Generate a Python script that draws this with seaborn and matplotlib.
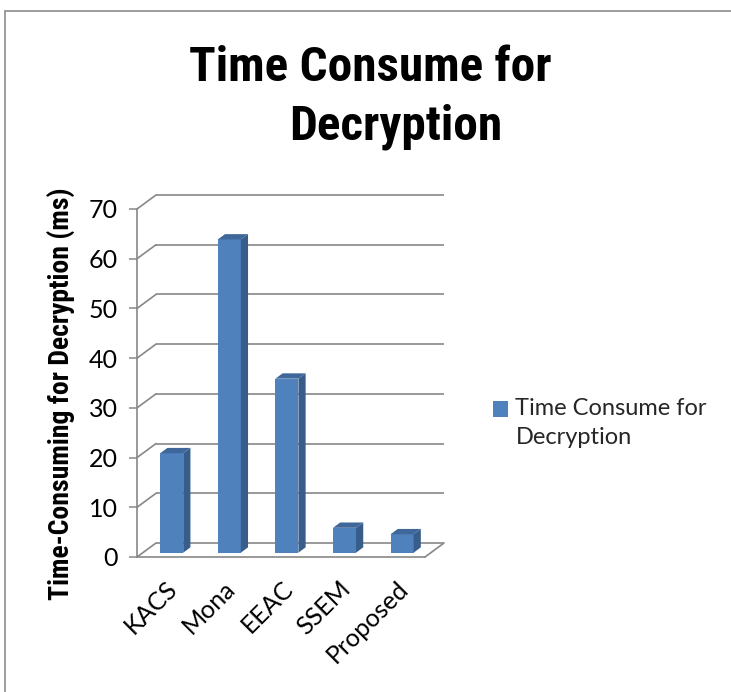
import matplotlib
matplotlib.use("Agg")
import matplotlib.pyplot as plt
from matplotlib.patches import Polygon, Rectangle
from matplotlib.lines import Line2D
from matplotlib.legend_handler import HandlerPatch
from matplotlib import font_manager
import seaborn as sns
import pandas as pd

# ---- data ----
methods = ["KACS", "Mona", "EEAC", "SSEM", "Proposed"]
times = [20, 63, 35, 5, 3.7]
series_name = "Time Consume for\nDecryption"
title_line1 = "Time Consume for"
title_line2 = "Decryption"
ylabel = "Time-Consuming for Decryption (ms)"
yticks = [0, 10, 20, 30, 40, 50, 60, 70]

df = pd.DataFrame({"Method": methods, "Time": times})

sns.set_theme(style="white")
plt.rcParams["font.family"] = ["Lato", "DejaVu Sans"]

# pick a narrow bold family if one is installed
installed = {f.name for f in font_manager.fontManager.ttflist}
narrow_pref = ["Liberation Sans Narrow", "Roboto Condensed", "Open Sans Condensed",
               "DejaVu Sans Condensed", "Noto Sans Condensed"]
narrow = [n for n in narrow_pref if n in installed]
if not narrow:
    narrow = sorted(n for n in installed if ("Condensed" in n or "Narrow" in n))
IS_NARROW = bool(narrow)
NARROW = (narrow[:1] if narrow else ["Liberation Sans"]) + ["DejaVu Sans"]

W, H = 731, 692
fig = plt.figure(figsize=(W / 100, H / 100), dpi=100)
fig.patch.set_facecolor("white")

# front plane of the pseudo-3D plot
x0p, x1p, ytop, ybot = 137, 425, 209, 557
ax = fig.add_axes([x0p / W, (H - ybot) / H, (x1p - x0p) / W, (ybot - ytop) / H])
ax.patch.set_visible(False)

FRONT = "#4F81BD"
SIDE = "#385D8A"
TOP = "#3F679A"
GRID = "#878787"

sns.barplot(data=df, x="Method", y="Time", color=FRONT, width=0.4,
            saturation=1, label=series_name, ax=ax, zorder=3)

ax.set_xlim(-0.5, len(methods) - 0.5)
ax.set_ylim(0, 70)
ax.set_yticks(yticks)
for s in ax.spines.values():
    s.set_visible(False)

# depth of the box in data units
DX = 19 / 57.6
DY = 14 / 49.7 * 10
F0 = 0.31     # depth position of bar front
BD = 0.38     # bar depth fraction

# walls / gridlines
xl, xr = -0.5, len(methods) - 0.5
glw = 1.2
for v in yticks:
    ax.plot([xl + DX, xr + DX], [v + DY, v + DY], color=GRID, lw=glw,
            clip_on=False, zorder=1, solid_capstyle="butt")
    ax.plot([xl, xl + DX], [v, v + DY], color=GRID, lw=glw, clip_on=False, zorder=1)
ax.plot([xl, xr], [0, 0], color=GRID, lw=glw, clip_on=False, zorder=2)
ax.plot([xr, xr + DX], [0, DY], color=GRID, lw=glw, clip_on=False, zorder=2)
ax.plot([xl, xl], [0, 70], color=GRID, lw=glw, clip_on=False, zorder=2)

# 3D bar faces
for p in list(ax.patches):
    p.set_x(p.get_x() + F0 * DX)
    p.set_y(F0 * DY)
    p.set_linewidth(0)
    bx0 = p.get_x()
    bx1 = bx0 + p.get_width()
    by0 = p.get_y()
    by1 = by0 + p.get_height()
    ddx, ddy = BD * DX, BD * DY
    side = Polygon([(bx1, by0), (bx1, by1), (bx1 + ddx, by1 + ddy), (bx1 + ddx, by0 + ddy)],
                   closed=True, facecolor=SIDE, edgecolor="none", zorder=3, clip_on=False)
    top = Polygon([(bx0, by1), (bx1, by1), (bx1 + ddx, by1 + ddy), (bx0 + ddx, by1 + ddy)],
                  closed=True, facecolor=TOP, edgecolor="none", zorder=3, clip_on=False)
    ax.add_patch(side)
    ax.add_patch(top)

# ticks
ax.tick_params(axis="y", which="both", left=True, length=6, width=1.1, color=GRID,
               pad=8, labelsize=18, labelcolor="black")
ax.tick_params(axis="x", length=0, pad=14, labelsize=18, labelcolor="black")
for lab in ax.get_xticklabels():
    lab.set_rotation(45)
    lab.set_ha("right")
    lab.set_va("top")
    lab.set_rotation_mode("anchor")
ax.set_xlabel("")

ax.set_ylabel(ylabel, fontsize=20 if IS_NARROW else 16, fontweight="bold",
              family=NARROW, color="black")
ax.yaxis.label.set_ha("center")
ax.yaxis.label.set_va("center")
ax.yaxis.label.set_rotation_mode("default")
ax.yaxis.set_label_coords((61 - x0p) / (x1p - x0p), (ybot - 394) / (ybot - ytop))

# title
tsize = 35.5 if IS_NARROW else 31
fig.text(370 / W, 1 - 81 / H, title_line1, ha="center", va="baseline",
         fontsize=tsize, fontweight="bold", family=NARROW, color="black")
fig.text(396 / W, 1 - 140 / H, title_line2, ha="center", va="baseline",
         fontsize=tsize, fontweight="bold", family=NARROW, color="black")


# legend with the key square beside the first line
class UpHandler(HandlerPatch):
    def create_artists(self, legend, orig_handle, xdescent, ydescent, width,
                       height, fontsize, trans):
        r = Rectangle((-xdescent, -ydescent + 0.6 * fontsize), width, height,
                      facecolor=FRONT, edgecolor="none", transform=trans)
        return [r]


handles, labels = ax.get_legend_handles_labels()
leg = ax.legend(handles[:1], labels[:1], loc="upper left",
                bbox_to_anchor=(493 / W, 1 - 398 / H),
                bbox_transform=fig.transFigure, frameon=False, fontsize=17,
                handlelength=0.65, handleheight=0.65, handletextpad=0.3,
                borderpad=0, borderaxespad=0,
                handler_map={type(handles[0]): UpHandler()})
for t in leg.get_texts():
    t.set_linespacing(1.5)

# chart area border
fig.add_artist(Line2D([5 / W, 5 / W], [0, 1 - 11 / H], color="#8C8C8C", lw=1.2,
                      transform=fig.transFigure))
fig.add_artist(Line2D([5 / W, 1], [1 - 11 / H, 1 - 11 / H], color="#8C8C8C", lw=1.2,
                      transform=fig.transFigure))

fig.savefig("out.png", dpi=100, facecolor="white")
